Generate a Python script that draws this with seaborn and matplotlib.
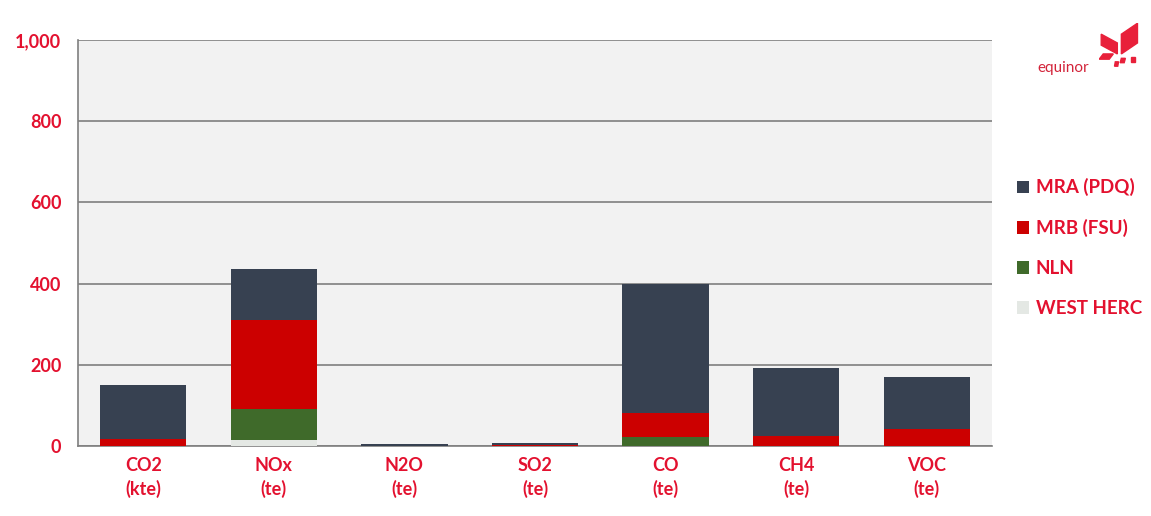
import numpy as np
import pandas as pd
import matplotlib
matplotlib.use("Agg")
import matplotlib.pyplot as plt
from matplotlib.patches import Patch, Polygon
from matplotlib.ticker import FuncFormatter, FixedLocator
import seaborn as sns

categories = ["CO2\n(kte)", "NOx\n(te)", "N2O\n(te)", "SO2\n(te)", "CO\n(te)", "CH4\n(te)", "VOC\n(te)"]
series = ["MRA (PDQ)", "MRB (FSU)", "NLN", "WEST HERC"]
west_herc = [0, 14, 0, 0, 0, 0, 0]
nln = [0, 78, 0, 0, 22, 0, 0]
mrb = [16, 218, 0, 3, 59, 25, 42]
mra = [134, 126, 5, 5, 318, 167, 128]
y_ticks = [0, 200, 400, 600, 800, 1000]

colors = {"MRA (PDQ)": "#374151", "MRB (FSU)": "#cc0000", "NLN": "#3f6a2a", "WEST HERC": "#e4e8e4"}
red_text = "#e3112f"

sns.set_theme(style="white")
plt.rcParams["font.family"] = ["Lato", "DejaVu Sans"]

fig = plt.figure(figsize=(11.51, 5.16), dpi=100)
ax = fig.add_axes([0.0678, 0.1357, 0.794, 0.787])
ax.set_facecolor("#f2f2f2")

# stacked bars: draw cumulative totals from the top layer down
layers = [("WEST HERC", west_herc), ("NLN", nln), ("MRB (FSU)", mrb), ("MRA (PDQ)", mra)]
cum = np.zeros(len(categories))
cums = []
for name, vals in layers:
    cum = cum + np.array(vals, dtype=float)
    cums.append((name, cum.copy()))
for name, tot in reversed(cums):
    df = pd.DataFrame({"category": categories, "total": tot})
    sns.barplot(data=df, x="category", y="total", color=colors[name], width=0.66,
                saturation=1, ax=ax, zorder=3, linewidth=0)

ax.set_ylim(0, 1000)
ax.set_xlim(-0.5, len(categories) - 0.5)
ax.yaxis.set_major_locator(FixedLocator(y_ticks))
ax.yaxis.set_major_formatter(FuncFormatter(lambda v, p: f"{int(v):,}"))
ax.grid(axis="y", color="#7f7f7f", linewidth=1.2, zorder=1)
ax.set_axisbelow(True)
ax.set_xlabel("")
ax.set_ylabel("")

for s in ["top", "right"]:
    ax.spines[s].set_visible(False)
for s in ["left", "bottom"]:
    ax.spines[s].set_color("#7f7f7f")
    ax.spines[s].set_linewidth(1.2)

ax.tick_params(axis="y", which="major", direction="out", length=6, color="#7f7f7f",
               labelsize=13, labelcolor=red_text, pad=6)
ax.tick_params(axis="x", which="major", length=0, labelsize=13, labelcolor=red_text, pad=8)
ax.set_xticks(range(len(categories)))
ax.set_xticklabels(categories, fontweight="bold", linespacing=1.4)
ax.set_xticks(np.arange(-0.5, len(categories)), minor=True)
ax.tick_params(axis="x", which="minor", direction="out", length=5, color="#7f7f7f")
for lab in ax.get_yticklabels():
    lab.set_fontweight("bold")

handles = [Patch(facecolor=colors[s], edgecolor="none", label=s) for s in series]
leg = fig.legend(handles=handles, loc="upper left", bbox_to_anchor=(0.877, 0.669),
                 frameon=False, fontsize=13.5, handlelength=0.65, handleheight=0.65,
                 handletextpad=0.35, labelspacing=1.22, labelcolor=red_text, borderaxespad=0)
for t in leg.get_texts():
    t.set_fontweight("bold")

# brand mark
fig.text(0.924, 0.868, "equinor", color="#d3243a", fontsize=11, ha="center", va="center")
logo = fig.add_axes([0.955, 0.87, 0.035, 0.085])
logo.set_xlim(0, 1); logo.set_ylim(0, 1); logo.axis("off")
logo.add_patch(Polygon([[0.05, 0.75], [0.45, 0.55], [0.45, 0.3], [0.05, 0.5]], color="#e8203a"))
logo.add_patch(Polygon([[0.55, 0.3], [0.95, 0.55], [0.95, 1.0], [0.55, 0.75]], color="#e8203a"))
logo.add_patch(Polygon([[0.1, 0.3], [0.35, 0.3], [0.25, 0.18], [0.0, 0.18]], color="#e8203a"))
logo.add_patch(Polygon([[0.55, 0.2], [0.65, 0.2], [0.62, 0.1], [0.52, 0.1]], color="#e8203a"))
logo.add_patch(Polygon([[0.8, 0.22], [0.9, 0.22], [0.9, 0.12], [0.8, 0.12]], color="#e8203a"))
logo.add_patch(Polygon([[0.4, 0.12], [0.48, 0.12], [0.46, 0.02], [0.38, 0.02]], color="#e8203a"))

fig.savefig("out.png", dpi=100, facecolor="white")
